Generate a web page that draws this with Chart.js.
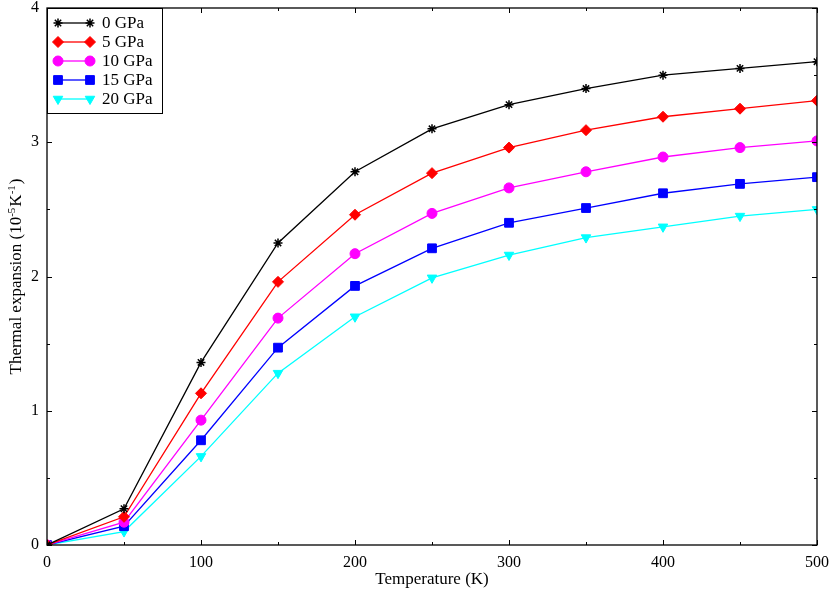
<!DOCTYPE html>
<html>
<head>
    <meta charset="utf-8"/>
    <title>Thermal expansion</title>
    <style>
        body { margin: 0; background: #fff; }
        canvas { display: block; }
    </style>
    <script src="https://cdn.jsdelivr.net/npm/chart.js"></script>
</head>
<body>
    <canvas id="chart" width="830" height="591"></canvas>
    <script>
        // temperatures (K)
        const temps = [0, 50, 100, 150, 200, 250, 300, 350, 400, 450, 500];
        const seriesNames = ['0 GPa', '5 GPa', '10 GPa', '15 GPa', '20 GPa'];
        const p0 = [0, 0.27, 1.36, 2.25, 2.78, 3.10, 3.28, 3.40, 3.50, 3.55, 3.60];
        const p5 = [0, 0.21, 1.13, 1.96, 2.46, 2.77, 2.96, 3.09, 3.19, 3.25, 3.31];
        const p10 = [0, 0.17, 0.93, 1.69, 2.17, 2.47, 2.66, 2.78, 2.89, 2.96, 3.01];
        const p15 = [0, 0.14, 0.78, 1.47, 1.93, 2.21, 2.40, 2.51, 2.62, 2.69, 2.74];
        const p20 = [0, 0.10, 0.66, 1.28, 1.70, 1.99, 2.16, 2.29, 2.37, 2.45, 2.50];
        const xTicks = [0, 100, 200, 300, 400, 500];
        const yTicks = [0, 1, 2, 3, 4];

        const colors = ['#000000', '#ff0000', '#ff00ff', '#0000ff', '#00ffff'];
        const markers = ['star', 'rectRot', 'circle', 'rect', 'triangle'];
        const markerSize = [4.5, 5.5, 5, 6.2, 5.5];
        const markerRot = [0, 0, 0, 0, 180];
        const values = [p0, p5, p10, p15, p20];

        const FONT = '"Liberation Serif", "Times New Roman", serif';

        const datasets = values.map((v, i) => ({
            label: seriesNames[i],
            data: v.map((y, j) => ({ x: temps[j], y: y })),
            borderColor: colors[i],
            backgroundColor: colors[i],
            borderWidth: 1.3,
            pointStyle: markers[i],
            pointRadius: markerSize[i],
            pointRotation: markerRot[i],
            pointBorderWidth: i === 0 ? 1.5 : 1,
            tension: 0
        }));

        // inward ticks, box, axis titles and legend, drawn like the original figure
        const framePlugin = {
            id: 'frame',
            afterDatasetsDraw(chart) {
                const ctx = chart.ctx;
                const a = chart.chartArea;
                const xs = chart.scales.x, ys = chart.scales.y;
                ctx.save();
                ctx.strokeStyle = '#000';
                ctx.lineWidth = 1;
                ctx.beginPath();
                for (let t = 0; t <= 500; t += 50) {
                    const px = Math.round(xs.getPixelForValue(t)) + 0.5;
                    const len = t % 100 === 0 ? 5 : 3;
                    ctx.moveTo(px, a.bottom); ctx.lineTo(px, a.bottom - len);
                    ctx.moveTo(px, a.top); ctx.lineTo(px, a.top + len);
                }
                for (let t = 0; t <= 4; t += 0.5) {
                    const py = Math.round(ys.getPixelForValue(t)) + 0.5;
                    const len = t % 1 === 0 ? 5 : 3;
                    ctx.moveTo(a.left, py); ctx.lineTo(a.left + len, py);
                    ctx.moveTo(a.right, py); ctx.lineTo(a.right - len, py);
                }
                ctx.stroke();
                ctx.lineWidth = 1.3;
                ctx.strokeRect(a.left, a.top, a.right - a.left, a.bottom - a.top);

                // x title
                ctx.fillStyle = '#000';
                ctx.font = '17px ' + FONT;
                ctx.textAlign = 'center';
                ctx.textBaseline = 'middle';
                ctx.fillText('Temperature (K)', (a.left + a.right) / 2, 580);

                // y title with superscripts
                const parts = [
                    ['Thermal expansion (10', false], ['-5', true], ['K', false], ['-1', true], [')', false]
                ];
                const big = '17px ' + FONT, small = '11px ' + FONT;
                let total = 0;
                parts.forEach(p => { ctx.font = p[1] ? small : big; total += ctx.measureText(p[0]).width + (p[1] ? 1 : 0); });
                ctx.save();
                ctx.translate(16, (a.top + a.bottom) / 2);
                ctx.rotate(-Math.PI / 2);
                ctx.textAlign = 'left';
                ctx.textBaseline = 'alphabetic';
                let cx = -total / 2;
                parts.forEach(p => {
                    ctx.font = p[1] ? small : big;
                    ctx.fillText(p[0], cx, p[1] ? -1 : 5);
                    cx += ctx.measureText(p[0]).width + (p[1] ? 1 : 0);
                });
                ctx.restore();

                // legend box
                const lx = a.left, ly = a.top, lw = 115, lh = 105;
                ctx.fillStyle = '#fff';
                ctx.fillRect(lx, ly, lw, lh);
                ctx.strokeStyle = '#000';
                ctx.lineWidth = 1;
                ctx.strokeRect(lx + 0.5, ly + 0.5, lw, lh);
                ctx.font = '17px ' + FONT;
                ctx.textAlign = 'left';
                ctx.textBaseline = 'middle';
                chart.data.datasets.forEach((ds, i) => {
                    const y = ly + 15 + i * 19;
                    const x1 = lx + 11, x2 = lx + 43;
                    ctx.strokeStyle = ds.borderColor;
                    ctx.lineWidth = 1.3;
                    ctx.beginPath();
                    ctx.moveTo(x1, y); ctx.lineTo(x2, y);
                    ctx.stroke();
                    [x1, x2].forEach(px => {
                        ctx.fillStyle = ds.backgroundColor;
                        ctx.lineWidth = ds.pointBorderWidth;
                        Chart.helpers.drawPoint(ctx, {
                            pointStyle: ds.pointStyle,
                            radius: ds.pointRadius,
                            rotation: ds.pointRotation,
                            borderWidth: ds.pointBorderWidth
                        }, px, y);
                    });
                    ctx.fillStyle = '#000';
                    ctx.fillText(ds.label, lx + 55, y + 1);
                });
                ctx.restore();
            }
        };

        new Chart(document.getElementById('chart'), {
            type: 'line',
            data: { datasets: datasets },
            options: {
                responsive: false,
                animation: false,
                layout: { padding: { top: 8, right: 13, left: 0, bottom: 0 } },
                plugins: {
                    legend: { display: false },
                    tooltip: { enabled: false }
                },
                scales: {
                    x: {
                        type: 'linear',
                        min: 0,
                        max: 500,
                        afterBuildTicks: s => { s.ticks = xTicks.map(v => ({ value: v })); },
                        afterFit: s => { s.height = 46; s.paddingLeft = 0; s.paddingRight = 0; },
                        grid: { display: false, drawTicks: false },
                        border: { display: false },
                        ticks: { color: '#000', font: { family: FONT, size: 16 }, padding: 8, maxRotation: 0 }
                    },
                    y: {
                        type: 'linear',
                        min: 0,
                        max: 4,
                        afterBuildTicks: s => { s.ticks = yTicks.map(v => ({ value: v })); },
                        afterFit: s => { s.width = 47; s.paddingTop = 0; s.paddingBottom = 0; },
                        grid: { display: false, drawTicks: false },
                        border: { display: false },
                        ticks: { color: '#000', font: { family: FONT, size: 16 }, padding: 8 }
                    }
                }
            },
            plugins: [framePlugin]
        });
    </script>
</body>
</html>
